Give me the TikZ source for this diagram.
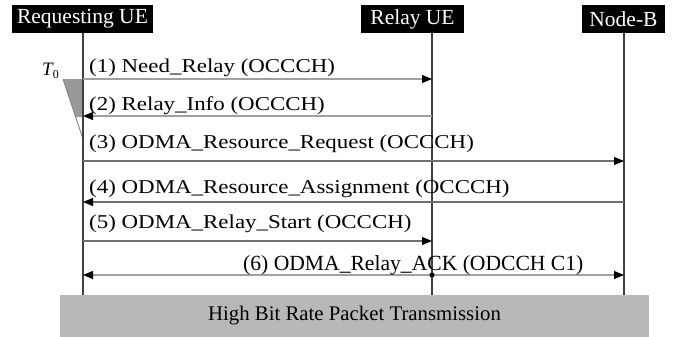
\documentclass[tikz,border=0pt]{standalone}
\usepackage{fontspec}
\setmainfont{Liberation Serif}
\newfontfamily\msgfont[FakeStretch=1.17]{Liberation Serif}
\usetikzlibrary{arrows.meta}
\definecolor{lifec}{HTML}{404040}
\definecolor{msgl}{HTML}{A0A0A0}
\definecolor{msgd}{HTML}{707070}
\definecolor{boxc}{HTML}{B8B8B8}
\definecolor{tric}{HTML}{999999}
\definecolor{diagc}{HTML}{808080}
\begin{document}
\begin{tikzpicture}[x=1pt,y=-1pt,
  hdr/.style={fill=black,text=white,inner sep=0pt,minimum height=28.5pt,font=\fontsize{21.5}{23}\selectfont},
  life/.style={draw=lifec,line width=1.5pt},
  tip/.tip={Triangle[length=10pt,width=8pt,color=black]},
  msg/.style={line width=1.1pt,-tip},
  lbl/.style={anchor=base west,inner sep=0pt,font=\msgfont\fontsize{19.6}{22}\selectfont},
]
\useasboundingbox (0,0) rectangle (674,337);
% headers
\node[hdr,minimum width=141pt] (req) at (82.5,19) {Requesting UE};
\node[hdr,minimum width=103pt] (relay) at (412.5,19) {Relay UE};
\node[hdr,minimum width=83pt] (nodeb) at (623.5,19) {Node-B};
% bottom box
\node[fill=boxc,minimum width=589pt,minimum height=42pt,inner sep=0pt,font=\fontsize{20.8}{22}\selectfont] (hbr) at (354.5,316) {High Bit Rate Packet Transmission};
% lifeline coordinates
\coordinate (rqT) at (83,33.25);  \coordinate (rqB) at (83,295);
\coordinate (rlT) at (432,33.25); \coordinate (rlB) at (432,295);
\coordinate (nbT) at (624,33.25); \coordinate (nbB) at (624,295);
% T0 timer
\fill[tric] (63,79) -- (83,79) -- (83,117) -- (75.7,117) -- cycle;
\coordinate (tA) at (63,79); \coordinate (tB) at (83,139);
\draw[diagc,line width=0.8pt] (tA) -- (tB);
\node[anchor=base west,inner sep=0pt,font=\fontsize{19}{20}\selectfont] (t0) at (42,75) {\itshape T\raisebox{-3.5pt}{\upshape\fontsize{12}{12}\selectfont 0}};
% lifelines
\draw[life] (rqT) -- (rqB);
\draw[life] (rlT) -- (rlB);
\draw[life] (nbT) -- (nbB);
% message coordinates
\coordinate (rq1) at (83,79);  \coordinate (rl1) at (432,79);
\coordinate (rq2) at (83,116); \coordinate (rl2) at (432,116);
\coordinate (rq3) at (83,161); \coordinate (nb3) at (624,161);
\coordinate (rq4) at (83,202); \coordinate (nb4) at (624,202);
\coordinate (rq5) at (83,241); \coordinate (rl5) at (432,241);
\coordinate (rq6) at (83,275); \coordinate (rl6) at (432,275); \coordinate (nb6) at (624,275);
% messages
\draw[msg,draw=msgl] (rq1) -- (rl1);
\draw[msg,draw=msgl] (rl2) -- (rq2);
\draw[msg,draw=msgd] (rq3) -- (nb3);
\draw[msg,draw=msgd] (nb4) -- (rq4);
\draw[msg,draw=msgd] (rq5) -- (rl5);
\draw[line width=1.1pt,draw=msgl,tip-tip] (rq6) -- (nb6);
\fill[black] (rl6) circle (2.5pt);
% labels
\node[lbl] (m1) at (89,72) {(1) Need\_Relay (OCCCH)};
\node[lbl] (m2) at (89,110) {(2) Relay\_Info (OCCCH)};
\node[lbl] (m3) at (89,148) {(3) ODMA\_Resource\_Request (OCCCH)};
\node[lbl] (m4) at (89,193) {(4) ODMA\_Resource\_Assignment (OCCCH)};
\node[lbl] (m5) at (89,228) {(5) ODMA\_Relay\_Start (OCCCH)};
\node[anchor=base west,inner sep=0pt,font=\fontsize{21.6}{24}\selectfont] (m6) at (243,270) {(6) ODMA\_Relay\_ACK (ODCCH C1)};
\end{tikzpicture}
\end{document}
